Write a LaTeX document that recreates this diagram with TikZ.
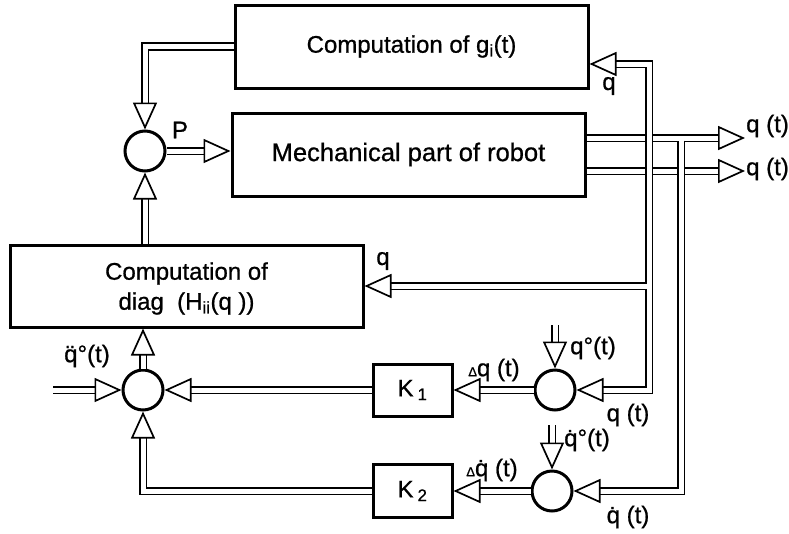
\documentclass[tikz,border=0pt]{standalone}
\usepackage{fontspec}
\setmainfont{Liberation Sans}[FakeBold=0.8]
\usepackage{amsmath}
\usetikzlibrary{arrows.meta}

\newcommand{\qd}{q̇}
\newcommand{\qdd}{q̈}
\newcommand{\dlt}{{\fontsize{13}{13}\selectfont Δ}}

\tikzset{
  blk/.style={draw, line width=3pt, minimum width=353pt, minimum height=83pt,
    inner sep=2pt, font=\fontsize{24}{30}\selectfont},
  kblk/.style={blk, minimum width=79pt, minimum height=52pt},
  sum/.style={draw, circle, line width=3pt, minimum size=40pt, inner sep=0pt},
  tip/.tip={Triangle[open, length=27pt, width=24pt, line width=1.7pt]},
  pipe/.style={line width=1.7pt, double, double distance=5pt, -tip},
  lbl/.style={font=\fontsize{24}{28}\selectfont, inner sep=0pt},
}

\begin{document}
\begin{tikzpicture}[x=1pt, y=-1pt]
  \useasboundingbox (0,0) rectangle (789,533);

  % --- blocks ---
  \node[blk] (gbox) at (411.5,46.5) {Computation of g\textsubscript{i}(t)};
  \node[blk, font=\fontsize{25.5}{30}\selectfont] (mech) at (408.5,154.5) {Mechanical part of robot};
  \node[blk, minimum height=82pt, align=center, text depth=-5pt] (diag) at (186.5,286)
    {Computation of\\diag~~(H\textsubscript{ii}(q~))};
  \node[kblk] (K1) at (412.5,390) {K\,\textsubscript{1}};
  \node[kblk, minimum height=53pt] (K2) at (412.5,491) {K\,\textsubscript{2}};

  % --- summing points ---
  \node[sum] (S1) at (145,151) {};
  \node[sum] (S2) at (143,390) {};
  \node[sum] (S3) at (555,390) {};
  \node[sum] (S4) at (552,491) {};

  % --- free ends of the pipes ---
  \coordinate (in) at (53,390);
  \coordinate (qref) at (555,325);
  \coordinate (dqref) at (552,425);
  \coordinate (out1) at (745,138);
  \coordinate (out2) at (745,171);
  \coordinate (fb) at (649,64);
  \coordinate (dfb) at (681,138);

  % --- forward path ---
  \draw[pipe] (gbox.west) -| (S1.north);
  \draw[pipe] (S1.east) -- (S1.east -| mech.west);
  \draw[pipe] (diag.north -| S1) -- (S1.south);
  \draw[pipe] (S2.north) -- (S2.north |- diag.south);
  \draw[pipe] (in) -- (S2.west);
  \draw[pipe] (K1.west) -- (S2.east);
  \draw[pipe] (K2.west) -| (S2.south);
  \draw[pipe] (S3.west) -- (K1.east);
  \draw[pipe] (S4.west) -- (K2.east);
  \draw[pipe] (qref) -- (S3.north);
  \draw[pipe] (dqref) -- (S4.north);

  % --- outputs and feedback ---
  \draw[pipe] (mech.east |- out1) -- (out1);
  \draw[pipe] (mech.east |- out2) -- (out2);
  \draw[pipe, tip-tip] (S3.east) -| (fb) -- (fb -| gbox.east);
  \draw[pipe] ([xshift=-2.5pt]fb |- diag.east) -- (diag.east);
  \draw[pipe] ([yshift=-2.5pt]dfb) |- (S4.east);

  % --- labels ---
  \node[lbl] (lP) at (180,130) {P};
  \node[lbl] (lqg) at (609,86) {q};
  \node[lbl, anchor=west] (lout1) at (746,126) {q (t)};
  \node[lbl, anchor=west] (lout2) at (746,169) {q (t)};
  \node[lbl] (lqd) at (383,261) {q};
  \node[lbl] (le1) at (494,370) {\dlt q (t)};
  \node[lbl] (lr1) at (593,348) {q°(t)};
  \node[lbl] (lf1) at (628,415) {q (t)};
  \node[lbl] (lacc) at (87,356) {\qdd°(t)};
  \node[lbl] (le2) at (492,470) {\dlt\qd\ (t)};
  \node[lbl] (lr2) at (587,440) {\qd°(t)};
  \node[lbl] (lf2) at (628,517) {\qd\ (t)};
\end{tikzpicture}
\end{document}
